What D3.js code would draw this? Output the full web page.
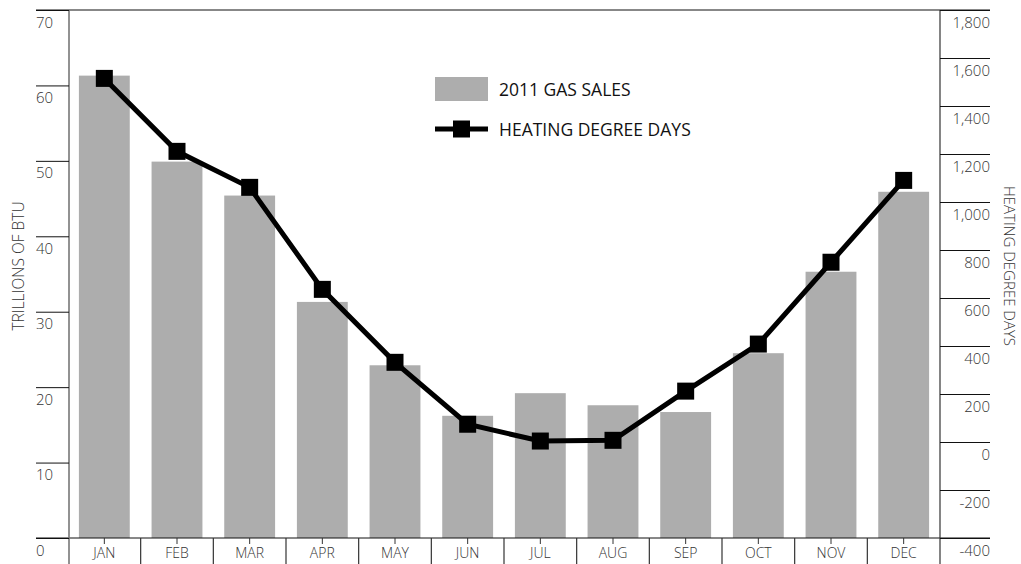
<!DOCTYPE html>
<html>
<head>
<meta charset="utf-8">
<script src="https://cdn.jsdelivr.net/npm/d3@7"></script>
<style>
  body { margin: 0; background: #fff; }
  svg { display: block; font-family: "Open Sans", sans-serif; }
</style>
</head>
<body>
<svg></svg>
<script>
const months = ["JAN", "FEB", "MAR", "APR", "MAY", "JUN", "JUL", "AUG", "SEP", "OCT", "NOV", "DEC"];
const gasSales = [61.3, 49.9, 45.4, 31.3, 22.9, 16.2, 19.2, 17.6, 16.7, 24.5, 35.3, 45.9];
const heatingDegreeDays = [1515, 1211, 1061, 636, 332, 74, 4, 7, 212, 408, 749, 1090];
const leftTicks = [0, 10, 20, 30, 40, 50, 60, 70];
const rightTicks = [-400, -200, 0, 200, 400, 600, 800, 1000, 1200, 1400, 1600, 1800];

window.onload = () => {
    let width = 1021, height = 564;
    let left = 69, right = 940, top = 10, bottom = 538;

    let svg = d3.select("svg")
        .attr("width", width)
        .attr("height", height);

    let x = d3.scaleBand()
        .domain(months)
        .range([left - 1, right])
        .paddingInner(0.3)
        .paddingOuter(0.15);
    let yL = d3.scaleLinear().domain([0, 70]).range([bottom, top]);
    let yR = d3.scaleLinear().domain([-400, 1800]).range([bottom, top]);

    // bars
    svg.append("g")
        .selectAll("rect")
        .data(gasSales)
        .enter()
        .append("rect")
            .attr("x", (d, i) => x(months[i]))
            .attr("width", x.bandwidth())
            .attr("y", d => yL(d))
            .attr("height", d => yL(0) - yL(d))
            .attr("fill", "#adadad");

    // frame lines
    svg.append("line")
        .attr("x1", 36).attr("x2", 990)
        .attr("y1", top).attr("y2", top)
        .attr("stroke", "#111").attr("stroke-width", 1);
    svg.append("line")
        .attr("x1", 36).attr("x2", 990)
        .attr("y1", bottom).attr("y2", bottom)
        .attr("stroke", "#111").attr("stroke-width", 1);
    svg.append("line")
        .attr("x1", left).attr("x2", left)
        .attr("y1", top).attr("y2", height)
        .attr("stroke", "#777").attr("stroke-width", 1.6);
    svg.append("line")
        .attr("x1", right).attr("x2", right)
        .attr("y1", top).attr("y2", height)
        .attr("stroke", "#333").attr("stroke-width", 1.2);

    // left axis
    let leftAxis = d3.axisLeft(yL).tickValues(leftTicks).tickSize(33).tickFormat(d3.format("d"));
    let gl = svg.append("g")
        .attr("transform", "translate(" + left + ",0)")
        .call(leftAxis);
    gl.select(".domain").remove();
    gl.selectAll(".tick line").attr("stroke", "#111");
    gl.selectAll(".tick text")
        .attr("x", -33)
        .attr("dy", 17)
        .attr("text-anchor", "start")
        .attr("fill", "#333")
        .style("font-size", "15px")
        .style("font-weight", 300)
        .style("font-family", "'Open Sans', sans-serif");

    // right axis
    let fmt = d => d3.format(",")(d).replace("\u2212", "-");
    let rightAxis = d3.axisRight(yR).tickValues(rightTicks).tickSize(50).tickFormat(fmt);
    let gr = svg.append("g")
        .attr("transform", "translate(" + right + ",0)")
        .call(rightAxis);
    gr.select(".domain").remove();
    gr.selectAll(".tick line").attr("stroke", "#111");
    gr.selectAll(".tick text")
        .attr("x", 50)
        .attr("dy", 17)
        .attr("text-anchor", "end")
        .attr("fill", "#333")
        .style("font-size", "15px")
        .style("font-weight", 300)
        .style("font-family", "'Open Sans', sans-serif");

    // bottom axis: dividers, centre ticks, month labels
    let gb = svg.append("g");
    let edges = months.map(m => x(m) - x.step() * x.paddingInner() / 2).slice(1);
    gb.selectAll("line.div")
        .data(edges)
        .enter()
        .append("line")
            .attr("class", "div")
            .attr("x1", d => d).attr("x2", d => d)
            .attr("y1", bottom).attr("y2", height)
            .attr("stroke", "#333").attr("stroke-width", 1.2);
    gb.selectAll("line.ctr")
        .data(months)
        .enter()
        .append("line")
            .attr("class", "ctr")
            .attr("x1", d => x(d) + x.bandwidth() / 2)
            .attr("x2", d => x(d) + x.bandwidth() / 2)
            .attr("y1", bottom).attr("y2", bottom + 6)
            .attr("stroke", "#333");
    gb.selectAll("text")
        .data(months)
        .enter()
        .append("text")
            .attr("x", d => x(d) + x.bandwidth() / 2)
            .attr("y", 558)
            .attr("text-anchor", "middle")
            .attr("fill", "#333")
            .style("font-size", "14px")
            .style("font-weight", 300)
            .text(d => d);

    // heating degree days line
    let line = d3.line()
        .x((d, i) => x(months[i]) + x.bandwidth() / 2)
        .y(d => yR(d));
    svg.append("path")
        .datum(heatingDegreeDays)
        .attr("d", line)
        .attr("fill", "none")
        .attr("stroke", "#000")
        .attr("stroke-width", 5);
    svg.append("g")
        .selectAll("rect")
        .data(heatingDegreeDays)
        .enter()
        .append("rect")
            .attr("x", (d, i) => x(months[i]) + x.bandwidth() / 2 - 8.5)
            .attr("y", d => yR(d) - 8.5)
            .attr("width", 17)
            .attr("height", 17)
            .attr("fill", "#000");

    // axis titles
    svg.append("text")
        .attr("transform", "translate(24,266) rotate(-90)")
        .attr("text-anchor", "middle")
        .attr("fill", "#333")
        .style("font-size", "15.5px")
        .style("font-weight", 300)
        .text("TRILLIONS OF BTU");
    svg.append("text")
        .attr("transform", "translate(1004,266) rotate(90)")
        .attr("text-anchor", "middle")
        .attr("fill", "#333")
        .style("font-size", "15px")
        .style("font-weight", 300)
        .text("HEATING DEGREE DAYS");

    // legend
    let lg = svg.append("g").attr("transform", "translate(435,0)");
    lg.append("rect")
        .attr("x", 0).attr("y", 77)
        .attr("width", 53).attr("height", 24)
        .attr("fill", "#adadad");
    lg.append("text")
        .attr("x", 64).attr("y", 95.5)
        .attr("fill", "#111")
        .style("font-size", "17.5px")
        .text("2011 GAS SALES");
    lg.append("line")
        .attr("x1", 0).attr("x2", 53)
        .attr("y1", 129).attr("y2", 129)
        .attr("stroke", "#000").attr("stroke-width", 5);
    lg.append("rect")
        .attr("x", 26.5 - 8.5).attr("y", 129 - 8.5)
        .attr("width", 17).attr("height", 17)
        .attr("fill", "#000");
    lg.append("text")
        .attr("x", 64).attr("y", 135.5)
        .attr("fill", "#111")
        .style("font-size", "17.5px")
        .text("HEATING DEGREE DAYS");
};
</script>
</body>
</html>
